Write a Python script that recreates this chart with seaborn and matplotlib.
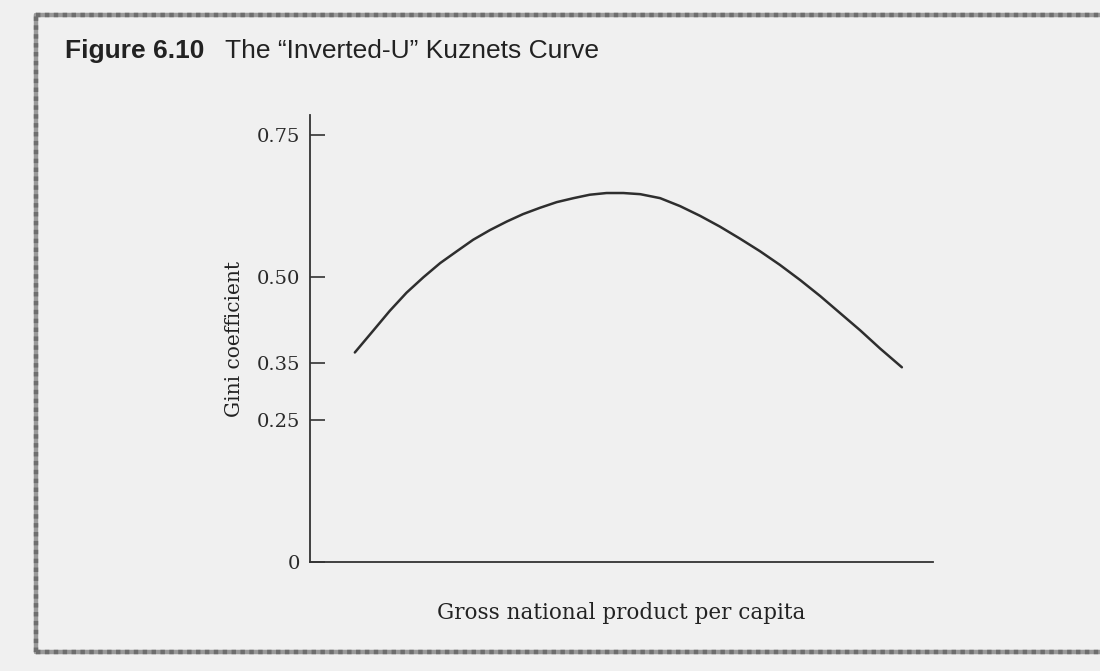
import matplotlib
matplotlib.use('Agg')
import seaborn as sns
import pandas as pd
import matplotlib.pyplot as plt
from matplotlib.lines import Line2D

# data (GNP on an arbitrary 0-100 scale, no units in the source)
gnp = [7.2, 10.2, 12.8, 15.5, 18.2, 20.9, 23.6, 26.2, 28.9, 31.6, 34.2, 36.9,
       39.6, 42.3, 44.9, 47.6, 50.3, 53.0, 56.2, 59.4, 62.6, 65.8, 69.0, 72.2,
       75.4, 78.7, 81.9, 85.1, 88.3, 91.5, 95.0]
gini = [0.368, 0.407, 0.441, 0.473, 0.500, 0.525, 0.546, 0.566, 0.583, 0.598,
        0.611, 0.622, 0.632, 0.639, 0.645, 0.648, 0.648, 0.646, 0.639, 0.625,
        0.608, 0.589, 0.568, 0.546, 0.522, 0.495, 0.467, 0.437, 0.407, 0.375,
        0.342]
yticks = [0, 0.25, 0.35, 0.50, 0.75]
ytick_labels = ["0", "0.25", "0.35", "0.50", "0.75"]

title_bold = "Figure 6.10"
title_rest = "The \u201cInverted-U\u201d Kuznets Curve"
xlabel = "Gross national product per capita"
ylabel = "Gini coefficient"


def main():
    sns.set_style("ticks")
    plt.rcParams['font.family'] = ['DejaVu Serif']

    df = pd.DataFrame({"gnp": gnp, "gini": gini})

    fig = plt.figure(figsize=(11, 6.71), dpi=100, facecolor='#f0f0f0')
    ax = fig.add_axes([0.2818, 0.1624, 0.5664, 0.6662])
    ax.set_facecolor('none')

    # the curve
    sns.lineplot(data=df, x="gnp", y="gini", ax=ax, color='#2e2e2e',
                 linewidth=1.8, sort=False, estimator=None)

    ax.set_xlim(0, 100)
    ax.set_ylim(0, 0.785)
    ax.set_yticks(yticks)
    ax.set_yticklabels(ytick_labels)
    ax.set_xticks([])
    ax.tick_params(axis='y', direction='in', length=11, width=1.2,
                   color='#333333', labelsize=14, pad=7, labelcolor='#2a2a2a')

    for side in ['top', 'right']:
        ax.spines[side].set_visible(False)
    for side in ['left', 'bottom']:
        ax.spines[side].set_color('#333333')
        ax.spines[side].set_linewidth(1.3)

    ax.set_xlabel(xlabel, fontsize=15.5, color='#222222', labelpad=29)
    ax.set_ylabel(ylabel, fontsize=14.5, color='#222222', labelpad=9)

    # figure title in sans serif
    fig.text(0.059, 0.924, title_bold, fontsize=19, fontweight='bold',
             family=['Liberation Sans', 'DejaVu Sans'], color='#222222', va='center')
    fig.text(0.2045, 0.924, title_rest, fontsize=19,
             family=['Liberation Sans', 'DejaVu Sans'], color='#222222', va='center')

    # page frame around the figure
    left, top, bottom = 36 / 1100, 1 - 15 / 671, 1 - 652 / 671
    for col, lw, ls in [('#9a9a9a', 3.2, '-'), ('#6e6e6e', 3.2, (0, (1, 1)))]:
        fig.add_artist(Line2D([left, left], [bottom, top], color=col, lw=lw, ls=ls,
                              transform=fig.transFigure))
        fig.add_artist(Line2D([left, 1.0], [top, top], color=col, lw=lw, ls=ls,
                              transform=fig.transFigure))
        fig.add_artist(Line2D([left, 1.0], [bottom, bottom], color=col, lw=lw, ls=ls,
                              transform=fig.transFigure))

    fig.savefig("out.png", dpi=100, facecolor=fig.get_facecolor())


main()
